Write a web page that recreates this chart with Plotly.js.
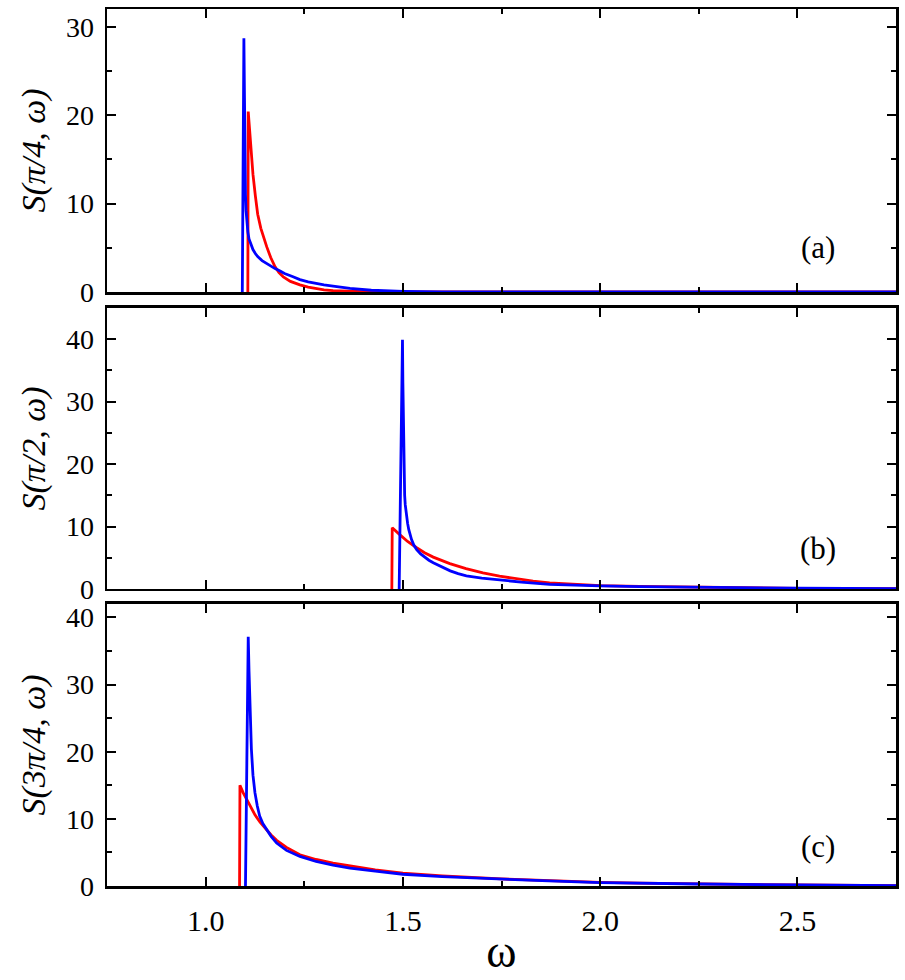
<!DOCTYPE html>
<html>
<head>
<meta charset="utf-8">
<script src="https://cdn.plot.ly/plotly-3.0.1.min.js"></script>
<style>
  html, body { margin: 0; padding: 0; background: #ffffff; }
  #chart { width: 905px; height: 980px; }
</style>
</head>
<body>
<div id="chart"></div>
<script>
// panel (a): q = pi/4
const wRedA  = [1.107, 1.108, 1.110, 1.112, 1.116, 1.120, 1.126, 1.132, 1.140, 1.148, 1.155, 1.165, 1.176, 1.186, 1.197, 1.215, 1.239, 1.26, 1.28, 1.30, 1.323, 1.36, 1.40, 2.75];
const sRedA  = [0, 20.4, 19.2, 17.8, 15.3, 13.3, 10.9, 8.8, 7.2, 6.0, 5.1, 3.9, 2.85, 2.2, 1.7, 1.2, 0.8, 0.55, 0.37, 0.25, 0.15, 0.07, 0.03, 0];
const wBlueA = [1.093, 1.097, 1.0985, 1.099, 1.100, 1.101, 1.1025, 1.104, 1.107, 1.110, 1.115, 1.120, 1.126, 1.132, 1.143, 1.155, 1.165, 1.176, 1.19, 1.20, 1.22, 1.239, 1.26, 1.28, 1.30, 1.323, 1.345, 1.366, 1.42, 1.5, 1.6, 2.75];
const sBlueA = [0, 28.7, 22, 18, 14, 11, 9.2, 8, 6.8, 6.0, 5.3, 4.8, 4.35, 4.0, 3.55, 3.2, 2.9, 2.65, 2.35, 2.1, 1.75, 1.4, 1.15, 0.95, 0.8, 0.67, 0.52, 0.4, 0.2, 0.08, 0.02, 0];

// panel (b): q = pi/2
const wRedB  = [1.472, 1.473, 1.492, 1.512, 1.535, 1.555, 1.577, 1.598, 1.619, 1.66, 1.703, 1.745, 1.788, 1.83, 1.872, 1.93, 2.0, 2.1, 2.25, 2.5, 2.75];
const sRedB  = [0, 9.8, 8.7, 7.6, 6.6, 5.8, 5.1, 4.55, 4.05, 3.25, 2.56, 2.05, 1.6, 1.25, 0.96, 0.72, 0.55, 0.4, 0.25, 0.1, 0.05];
const wBlueB = [1.4906, 1.499, 1.500, 1.501, 1.502, 1.503, 1.5045, 1.506, 1.509, 1.512, 1.515, 1.518, 1.522, 1.528, 1.535, 1.545, 1.555, 1.566, 1.577, 1.60, 1.62, 1.64, 1.661, 1.70, 1.745, 1.80, 1.872, 1.93, 2.0, 2.1, 2.25, 2.5, 2.75];
const sBlueB = [0, 39.9, 33, 27, 21, 17, 15, 13.5, 11.6, 10.5, 9.5, 8.6, 7.9, 7.0, 6.3, 5.6, 5.1, 4.6, 4.2, 3.5, 2.9, 2.45, 2.1, 1.75, 1.45, 1.1, 0.75, 0.6, 0.5, 0.38, 0.25, 0.12, 0.05];

// panel (c): q = 3pi/4
const wRedC  = [1.086, 1.087, 1.095, 1.104, 1.114, 1.125, 1.138, 1.154, 1.166, 1.18, 1.205, 1.239, 1.28, 1.323, 1.366, 1.43, 1.5, 1.6, 1.75, 1.87, 2.0, 2.1, 2.25, 2.5, 2.75];
const sRedC  = [0, 15.0, 13.9, 12.9, 11.7, 10.6, 9.5, 8.4, 7.6, 6.8, 5.75, 4.65, 3.95, 3.4, 3.0, 2.4, 1.9, 1.5, 1.05, 0.78, 0.55, 0.43, 0.3, 0.15, 0.05];
const wBlueC = [1.101, 1.108, 1.110, 1.112, 1.114, 1.116, 1.120, 1.125, 1.131, 1.137, 1.145, 1.154, 1.166, 1.18, 1.205, 1.239, 1.28, 1.323, 1.366, 1.43, 1.5, 1.6, 1.75, 1.87, 2.0, 2.1, 2.25, 2.5, 2.75];
const sBlueC = [0, 37.1, 32, 27.8, 23.8, 20.4, 16.5, 13.9, 11.9, 10.4, 9.3, 8.4, 7.4, 6.4, 5.3, 4.4, 3.65, 3.1, 2.65, 2.2, 1.75, 1.4, 1.0, 0.75, 0.5, 0.4, 0.3, 0.15, 0.05];

const yTitles = ["S(π/4, ω)", "S(π/2, ω)", "S(3π/4, ω)"];
const yRanges = [[0, 32], [0, 45], [0, 42]];
const panelLabels = ["(a)", "(b)", "(c)"];

const serif = "Liberation Serif";
const red = "#ff0000", blue = "#0000ff";

function line(x, y, color, xa, ya) {
    return {
        x: x, y: y, type: "scatter", mode: "lines",
        xaxis: xa, yaxis: ya,
        line: { color: color, width: 2.8 },
        showlegend: false, hoverinfo: "skip"
    };
}

const traces = [
    line(wRedA, sRedA, red, "x", "y"),    line(wBlueA, sBlueA, blue, "x", "y"),
    line(wRedB, sRedB, red, "x2", "y2"),  line(wBlueB, sBlueB, blue, "x2", "y2"),
    line(wRedC, sRedC, red, "x3", "y3"),  line(wBlueC, sBlueC, blue, "x3", "y3")
];

const domains = [[0.6773, 1], [0.3387, 0.6591], [0, 0.3216]];

function xAxis(anchor, showLabels) {
    return {
        domain: [0, 1], anchor: anchor, range: [0.75, 2.75],
        dtick: 0.5, tick0: 0, ticks: "inside", ticklen: 9, tickwidth: 2, tickcolor: "#000",
        minor: { dtick: 0.25, ticks: "inside", ticklen: 5, tickwidth: 2, tickcolor: "#000" },
        showline: true, linecolor: "#000", linewidth: 2.5, mirror: "ticks",
        showgrid: false, zeroline: false,
        showticklabels: showLabels, tickformat: ".1f", ticklabelstandoff: 6,
        tickfont: { family: serif, size: 30, color: "#000" }
    };
}

function yAxis(i, anchor) {
    return {
        domain: domains[i], anchor: anchor, range: yRanges[i],
        dtick: 10, ticks: "inside", ticklen: 9, tickwidth: 2, tickcolor: "#000",
        minor: { dtick: 5, ticks: "inside", ticklen: 5, tickwidth: 2, tickcolor: "#000" },
        showline: true, linecolor: "#000", linewidth: 2.5, mirror: "ticks",
        showgrid: false, zeroline: false, ticklabelstandoff: 5,
        tickfont: { family: serif, size: 28, color: "#000" },
        title: {
            text: "<i>" + yTitles[i] + "</i>", standoff: 10,
            font: { family: serif, size: 34, color: "#000" }
        }
    };
}

const layout = {
    width: 905, height: 980,
    font: { family: serif, size: 28, color: "#000" },
    margin: { l: 107, r: 9, t: 9, b: 94 },
    paper_bgcolor: "#fff", plot_bgcolor: "#fff",
    xaxis: xAxis("y", false),
    xaxis2: xAxis("y2", false),
    xaxis3: Object.assign(xAxis("y3", true), {
        title: { text: "ω", standoff: 0, font: { family: serif, size: 46, color: "#000" } }
    }),
    yaxis: yAxis(0, "x"),
    yaxis2: yAxis(1, "x2"),
    yaxis3: yAxis(2, "x3"),
    annotations: panelLabels.map(function(t, i) {
        return {
            text: t, xref: "paper", yref: "paper", x: 0.901,
            y: [0.7275, 0.3854, 0.0445][i], showarrow: false,
            xanchor: "center", yanchor: "middle",
            font: { family: serif, size: 31, color: "#000" }
        };
    })
};

Plotly.newPlot("chart", traces, layout, { displayModeBar: false, staticPlot: true });
</script>
</body>
</html>
